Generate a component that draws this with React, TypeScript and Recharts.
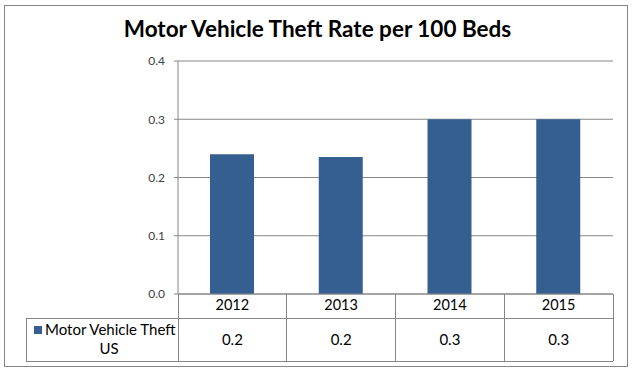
import { BarChart, Bar, XAxis, YAxis, CartesianGrid } from 'recharts';

const years = ['2012', '2013', '2014', '2015'];
const theftRate = [0.24, 0.235, 0.3, 0.3];
const yTicks = [0, 0.1, 0.2, 0.3, 0.4];
const seriesLabel = ['Motor Vehicle Theft', 'US'];
const title = 'Motor Vehicle Theft Rate per 100 Beds';

const data = years.map((year, i) => ({ year, rate: theftRate[i] }));

// plot box (matches the Excel layout)
const W = 635;
const H = 373;
const PLOT_L = 178;
const PLOT_R = 613;
const PLOT_B = 294;
const ROW1_B = 318.5;
const ROW2_B = 361;
const TABLE_L = 26;
const GRID = '#868686';
const BAR = '#365f91';
const FONT = 'Lato, "Noto Sans", sans-serif';

export default function App() {
  const colW = (PLOT_R - PLOT_L) / years.length;
  const cols = years.map((_, i) => PLOT_L + i * colW);

  return (
    <div style={{ position: 'fixed', left: 0, top: 0, width: W, height: H, background: '#fff', fontFamily: FONT }}>
      <div style={{ position: 'absolute', left: 4, top: 5, width: 624, height: 362, border: `1px solid ${GRID}`, boxSizing: 'border-box' }} />
      <div style={{ position: 'absolute', left: 0, top: 15, width: W, textAlign: 'center', fontSize: 22.5, fontWeight: 700, color: '#000' }}>
        {title}
      </div>
      <div style={{ position: 'absolute', left: 0, top: 0 }}>
        <BarChart width={W} height={H} data={data} margin={{ top: 61, right: W - PLOT_R, bottom: H - PLOT_B - 24, left: PLOT_L - 40 }}>
          <CartesianGrid vertical={false} stroke={GRID} strokeWidth={1} />
          <YAxis
            width={40}
            domain={[0, 0.4]}
            ticks={yTicks}
            tickFormatter={(v: number) => v.toFixed(1)}
            axisLine={{ stroke: GRID }}
            tickLine={{ stroke: GRID }}
            tickSize={4}
            tickMargin={9}
            tick={{ fill: '#404040', fontSize: 12, fontFamily: FONT }}
          />
          <XAxis
            dataKey="year"
            height={24}
            axisLine={{ stroke: GRID }}
            tickLine={false}
            tickMargin={0}
            tick={{ fill: '#000', fontSize: 14.5, fontFamily: FONT }}
          />
          <Bar dataKey="rate" fill={BAR} barSize={44} isAnimationActive={false} />
        </BarChart>
      </div>
      <svg width={W} height={H} style={{ position: 'absolute', left: 0, top: 0, pointerEvents: 'none' }}>
        <g stroke={GRID} strokeWidth={1} shapeRendering="crispEdges">
          {cols.map((x) => (
            <line key={x} x1={x} x2={x} y1={PLOT_B} y2={ROW2_B} />
          ))}
          <line x1={PLOT_R} x2={PLOT_R} y1={PLOT_B} y2={ROW2_B} />
          <line x1={TABLE_L} x2={PLOT_R} y1={ROW1_B} y2={ROW1_B} />
          <line x1={TABLE_L} x2={PLOT_R} y1={ROW2_B} y2={ROW2_B} />
          <line x1={TABLE_L} x2={TABLE_L} y1={ROW1_B} y2={ROW2_B} />
        </g>
        <rect x={34} y={326} width={8} height={8} fill={BAR} />
        <text x={45} y={335} fontSize={15} fontFamily={FONT} fill="#000">
          {seriesLabel[0]}
        </text>
        <text x={109} y={354} textAnchor="middle" fontSize={15} fontFamily={FONT} fill="#000">
          {seriesLabel[1]}
        </text>
        {theftRate.map((v, i) => (
          <text key={i} x={cols[i] + colW / 2} y={345} textAnchor="middle" fontSize={15} fontFamily={FONT} fill="#000">
            {v.toFixed(1)}
          </text>
        ))}
      </svg>
    </div>
  );
}
